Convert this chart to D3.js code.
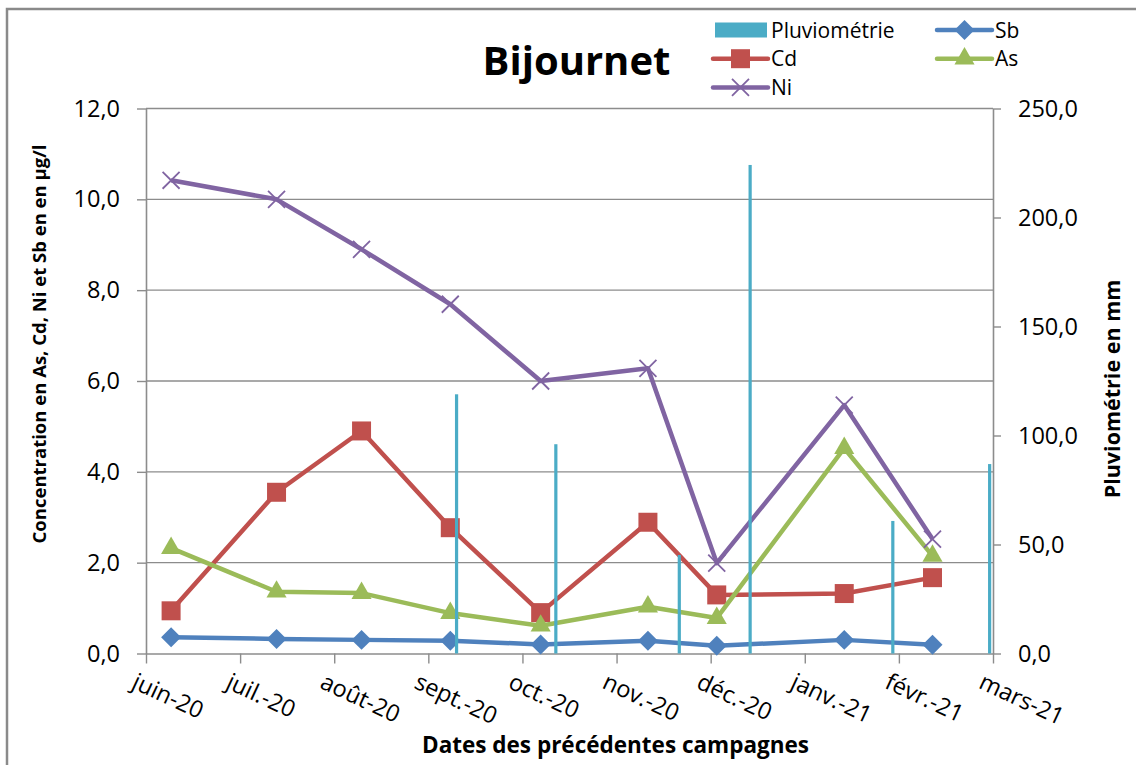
<!DOCTYPE html>
<html><head><meta charset="utf-8">
<script src="https://cdn.jsdelivr.net/npm/d3@7"></script>
<style>
body{margin:0;background:#fff}
svg{display:block}
text{font-family:"Open Sans",sans-serif;fill:#000}
</style>
</head><body>
<svg id="c" width="1136" height="765"></svg>
<script>
// ---------- data ----------
const sampleDates = ["2020-06-09","2020-07-13","2020-08-10","2020-09-08","2020-10-07","2020-11-11","2020-12-03","2021-01-14","2021-02-11"];
const sbValues = [0.36, 0.32, 0.30, 0.28, 0.20, 0.28, 0.17, 0.30, 0.19];
const cdValues = [0.94, 3.55, 4.90, 2.77, 0.90, 2.89, 1.29, 1.32, 1.67];
const asValues = [2.32, 1.36, 1.33, 0.89, 0.61, 1.03, 0.78, 4.52, 2.15];
const niValues = [10.42, 10.00, 8.90, 7.69, 6.00, 6.28, 1.99, 5.47, 2.52];
const rainDates = ["2020-09-10","2020-10-12","2020-11-21","2020-12-14","2021-01-30","2021-02-28"];
const rainValues = [118.9, 96.0, 45.2, 224.1, 60.8, 86.9];
const monthStarts = ["2020-06-01","2020-07-01","2020-08-01","2020-09-01","2020-10-01","2020-11-01","2020-12-01","2021-01-01","2021-02-01","2021-03-01"];
const monthLabels = ["juin-20","juil.-20","août-20","sept.-20","oct.-20","nov.-20","déc.-20","janv.-21","févr.-21","mars-21"];
const leftTicks = [0, 2, 4, 6, 8, 10, 12];
const rightTicks = [0, 50, 100, 150, 200, 250];
const titleText = "Bijournet";
const xTitle = "Dates des précédentes campagnes";
const yLeftTitle = "Concentration en As, Cd, Ni et Sb en en µg/l";
const yRightTitle = "Pluviométrie en mm";

// ---------- setup ----------
const parse = d3.timeParse("%Y-%m-%d");
const svg = d3.select("#c");
const L = 146, R = 993, T = 108.5, B = 653.5;
const gridColor = "#8c8c8c";
const colors = {rain:"#4BACC6", Sb:"#4F81BD", Cd:"#C0504D", As:"#9BBB59", Ni:"#8064A2"};

// chart border
svg.append("rect").attr("x",7).attr("y",9).attr("width",1200).attr("height",800)
  .attr("fill","none").attr("stroke","#8a8a8a").attr("stroke-width",2.5);

const months = monthStarts.map(parse);
// equal width per month (Excel-like month base unit)
const x = d3.scaleTime()
  .domain(months)
  .range(months.map((d,i) => L + i*(R-L)/(months.length-1)));
const yL = d3.scaleLinear().domain([0,12]).range([B,T]);
const yR = d3.scaleLinear().domain([0,250]).range([B,T]);
const fmt = d => d3.format(".1f")(d).replace(".", ",");

// gridlines
svg.append("g").selectAll("line").data(leftTicks.filter(d=>d>0)).join("line")
  .attr("x1",L).attr("x2",R).attr("y1",d=>yL(d)).attr("y2",d=>yL(d))
  .attr("stroke",gridColor).attr("stroke-width",1.4);

// axes
function styleAxis(g){
  g.select(".domain").attr("stroke",gridColor).attr("stroke-width",1.6);
  g.selectAll(".tick line").attr("stroke",gridColor).attr("stroke-width",1.4);
  g.selectAll(".tick text").attr("font-size",23.5).attr("fill","#000")
    .style("font-family","Open Sans");
}
svg.append("g").attr("transform",`translate(${L},0)`)
  .call(d3.axisLeft(yL).tickValues(leftTicks).tickSize(9).tickSizeOuter(0).tickPadding(17).tickFormat(fmt))
  .call(styleAxis);
svg.append("g").attr("transform",`translate(${R},0)`)
  .call(d3.axisRight(yR).tickValues(rightTicks).tickSize(8).tickSizeOuter(0).tickPadding(17).tickFormat(fmt))
  .call(styleAxis);
svg.append("g").attr("transform",`translate(0,${B})`)
  .call(d3.axisBottom(x).tickValues(months).tickSize(10).tickSizeOuter(0).tickFormat(""))
  .call(styleAxis);

// rotated x labels
svg.append("g").selectAll("text").data(months).join("text")
  .attr("transform",d=>`translate(${x(d)-8},${B+18}) rotate(25)`)
  .attr("dy","0.75em")
  .attr("font-size",23.5)
  .text((d,i)=>monthLabels[i]);

// series
const series = [
  {name:"Sb", values:sbValues, marker:"diamond"},
  {name:"Cd", values:cdValues, marker:"square"},
  {name:"As", values:asValues, marker:"triangle"},
  {name:"Ni", values:niValues, marker:"x"}
];
const dates = sampleDates.map(parse);
const line = d3.line().x(d=>x(d.date)).y(d=>yL(d.v));

function marker(g, type, color){
  if(type==="diamond") g.append("path").attr("d",d3.symbol(d3.symbolSquare,200)()).attr("transform","rotate(45)").attr("fill",color);
  else if(type==="square") g.append("path").attr("d",d3.symbol(d3.symbolSquare,361)()).attr("fill",color);
  else if(type==="triangle") g.append("path").attr("d",d3.symbol(d3.symbolTriangle,175)()).attr("fill",color);
  else g.append("path").attr("d",d3.symbol(d3.symbolX,190)()).attr("fill","none").attr("stroke",color).attr("stroke-width",1.8);
}

// draw lines in order Sb, Cd, As, Ni
series.forEach(s=>{
  const pts = dates.map((d,i)=>({date:d, v:s.values[i]}));
  svg.append("path").datum(pts).attr("d",line)
    .attr("fill","none").attr("stroke",colors[s.name]).attr("stroke-width",4.5)
    .attr("stroke-linejoin","round");
  svg.append("g").selectAll("g").data(pts).join("g")
    .attr("transform",d=>`translate(${x(d.date)},${yL(d.v)})`)
    .each(function(){ marker(d3.select(this), s.marker, colors[s.name]); });
});

// rainfall bars (secondary axis, drawn on top)
const rain = rainDates.map((d,i)=>({date:parse(d), v:rainValues[i]}));
svg.append("g").selectAll("rect").data(rain).join("rect")
  .attr("x",d=>x(d.date)-1.6).attr("width",3.2)
  .attr("y",d=>yR(d.v)).attr("height",d=>B-yR(d.v))
  .attr("fill",colors.rain);

// titles
svg.append("text").attr("x",576.5).attr("y",75).attr("text-anchor","middle")
  .attr("font-size",40).attr("font-weight","bold").text(titleText);
svg.append("text").attr("x",615.5).attr("y",753).attr("text-anchor","middle")
  .attr("font-size",22.5).attr("font-weight","bold").text(xTitle);
svg.append("text").attr("transform","translate(46,344) rotate(-90)").attr("text-anchor","middle")
  .attr("font-size",18.5).attr("font-weight","bold").text(yLeftTitle);
svg.append("text").attr("transform","translate(1120,389) rotate(-90)").attr("text-anchor","middle")
  .attr("font-size",21.5).attr("font-weight","bold").text(yRightTitle);

// legend
const legend = [
  {name:"Pluviométrie", key:"rain", col:0, row:0},
  {name:"Sb", key:"Sb", col:1, row:0, marker:"diamond"},
  {name:"Cd", key:"Cd", col:0, row:1, marker:"square"},
  {name:"As", key:"As", col:1, row:1, marker:"triangle"},
  {name:"Ni", key:"Ni", col:0, row:2, marker:"x"}
];
const lg = svg.append("g");
legend.forEach(it=>{
  const gx = it.col===0 ? 713 : 937, gy = 30 + it.row*28.7;
  const g = lg.append("g").attr("transform",`translate(${gx},${gy})`);
  if(it.key==="rain"){
    g.append("rect").attr("x",2).attr("y",-7.5).attr("width",52).attr("height",15).attr("fill",colors.rain);
  } else {
    g.append("line").attr("x1",0).attr("x2",55).attr("stroke",colors[it.key]).attr("stroke-width",4.5).attr("stroke-linecap","round");
    const m = g.append("g").attr("transform","translate(27.5,0)");
    marker(m, it.marker, colors[it.key]);
  }
  g.append("text").attr("x",58).attr("dy","0.36em").attr("font-size",21).text(it.name);
});
</script>
</body></html>
